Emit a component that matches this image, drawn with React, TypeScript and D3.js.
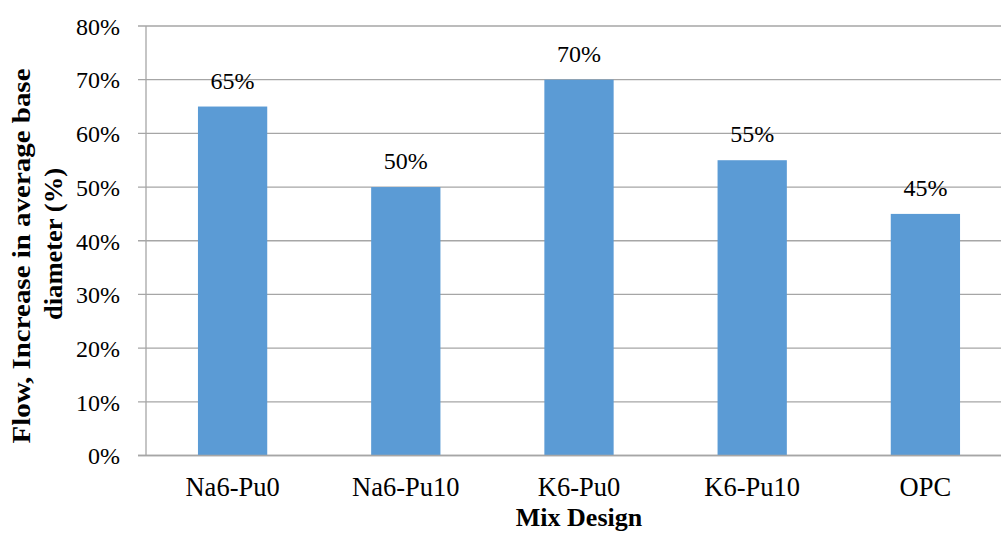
import React from "react";
import * as d3 from "d3";

const categories = ["Na6-Pu0", "Na6-Pu10", "K6-Pu0", "K6-Pu10", "OPC"];
const flowIncrease = [0.65, 0.5, 0.7, 0.55, 0.45];
const yTicks = [0, 0.1, 0.2, 0.3, 0.4, 0.5, 0.6, 0.7, 0.8];
const yTitleLines = ["Flow, Increase in average base", "diameter (%)"];
const xTitle = "Mix Design";

const W = 1001;
const H = 533;
const left = 146;
const right = 1012;
const top = 26;
const bottom = 455.5;
const FONT = "'Liberation Serif', 'Times New Roman', Times, serif";

export default function App() {
  const x = d3.scaleBand<string>().domain(categories).range([left, right]).paddingInner(0.6).paddingOuter(0.3);
  const y = d3.scaleLinear().domain([0, 0.8]).range([bottom, top]);
  const pct = d3.format(".0%");

  return (
    <svg width={W} height={H} style={{ position: "fixed", left: 0, top: 0, background: "#fff" }} fontFamily={FONT}>
      {yTicks.map((t) => (
        <g key={t}>
          <line x1={138} x2={W} y1={y(t)} y2={y(t)} stroke="#A6A6A6" strokeWidth={1.3} />
          <text x={120} y={y(t) + 8.8} textAnchor="end" fontSize={24} fill="#000">
            {pct(t)}
          </text>
        </g>
      ))}
      <line x1={left} x2={left} y1={top} y2={bottom} stroke="#A6A6A6" strokeWidth={1.3} />
      {categories.map((c, i) => {
        const v = flowIncrease[i];
        const cx = (x(c) as number) + x.bandwidth() / 2;
        return (
          <g key={c}>
            <rect x={x(c)} y={y(v)} width={x.bandwidth()} height={bottom - y(v)} fill="#5B9BD5" />
            <text x={cx} y={y(v) - 18} textAnchor="middle" fontSize={24} fill="#000">
              {pct(v)}
            </text>
            <text x={cx} y={496} textAnchor="middle" fontSize={26.5} fill="#000">
              {c}
            </text>
          </g>
        );
      })}
      <line x1={138} x2={W} y1={bottom} y2={bottom} stroke="#A6A6A6" strokeWidth={1.3} />
      <text x={579} y={526} textAnchor="middle" fontSize={26} fontWeight="bold" fill="#000">
        {xTitle}
      </text>
      <g transform="translate(29.5,256) rotate(-90)">
        <text x={0} y={0} textAnchor="middle" fontSize={26} fontWeight="bold" fill="#000"
          textLength={375} lengthAdjust="spacingAndGlyphs">
          {yTitleLines[0]}
        </text>
      </g>
      <g transform="translate(61.5,244) rotate(-90)">
        <text x={0} y={0} textAnchor="middle" fontSize={26} fontWeight="bold" fill="#000"
          textLength={152} lengthAdjust="spacingAndGlyphs">
          {yTitleLines[1]}
        </text>
      </g>
    </svg>
  );
}
